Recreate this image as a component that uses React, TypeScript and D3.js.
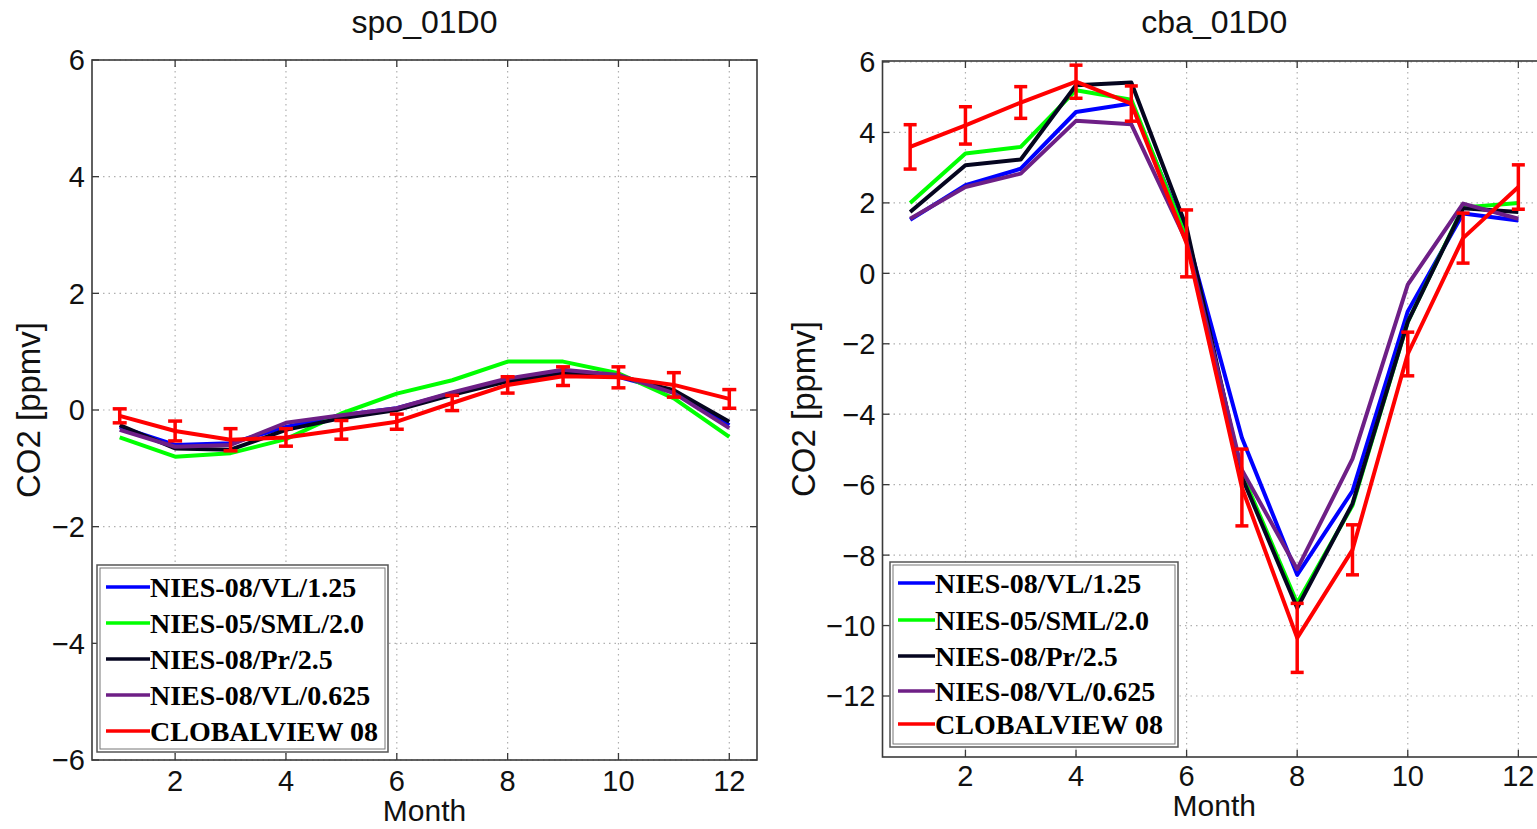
import React from "react";
import * as d3 from "d3";

const months = [1, 2, 3, 4, 5, 6, 7, 8, 9, 10, 11, 12];
const xTicks = [2, 4, 6, 8, 10, 12];

const seriesNames = [
  "NIES-08/VL/1.25",
  "NIES-05/SML/2.0",
  "NIES-08/Pr/2.5",
  "NIES-08/VL/0.625",
  "CLOBALVIEW 08",
];
const seriesColors = ["#0000ff", "#00ff00", "#05051f", "#6e1f86", "#ff0000"];

// spo_01D0
const spoBlue = [-0.29, -0.6, -0.57, -0.29, -0.09, 0.03, 0.29, 0.51, 0.63, 0.57, 0.31, -0.26];
const spoGreen = [-0.47, -0.8, -0.74, -0.5, -0.06, 0.28, 0.51, 0.83, 0.83, 0.63, 0.2, -0.46];
const spoBlack = [-0.26, -0.66, -0.68, -0.34, -0.14, 0.0, 0.26, 0.49, 0.62, 0.58, 0.34, -0.2];
const spoPurple = [-0.34, -0.63, -0.6, -0.22, -0.09, 0.03, 0.3, 0.54, 0.69, 0.6, 0.29, -0.31];
const spoObs = [-0.1, -0.36, -0.51, -0.47, -0.34, -0.2, 0.12, 0.43, 0.58, 0.56, 0.43, 0.19];
const spoErr = [0.12, 0.17, 0.19, 0.15, 0.16, 0.13, 0.13, 0.14, 0.16, 0.18, 0.21, 0.16];
const spoYTicks = [-6, -4, -2, 0, 2, 4, 6];

// cba_01D0
const cbaBlue = [1.52, 2.5, 2.97, 4.58, 4.82, 1.1, -4.67, -8.56, -6.18, -1.08, 1.7, 1.5];
const cbaGreen = [2.0, 3.4, 3.59, 5.2, 4.93, 1.0, -5.68, -9.36, -6.59, -1.38, 1.87, 2.0];
const cbaBlack = [1.74, 3.07, 3.23, 5.34, 5.42, 1.3, -5.78, -9.5, -6.54, -1.38, 1.85, 1.74];
const cbaPurple = [1.55, 2.45, 2.83, 4.33, 4.23, 0.9, -5.58, -8.4, -5.27, -0.32, 1.98, 1.55];
const cbaObs = [3.59, 4.2, 4.85, 5.44, 4.82, 0.85, -6.08, -10.35, -7.85, -2.29, 1.0, 2.45];
const cbaErr = [0.63, 0.53, 0.45, 0.47, 0.5, 0.95, 1.09, 0.98, 0.71, 0.62, 0.71, 0.63];
const cbaYTicks = [-12, -10, -8, -6, -4, -2, 0, 2, 4, 6];

const fmt = (v: number) => (v < 0 ? "\u2212" + Math.abs(v) : String(v));

type PanelProps = {
  title: string;
  left: number;
  right: number;
  top: number;
  bottom: number;
  yDomain: [number, number];
  yRange: [number, number];
  yTicks: number[];
  models: number[][];
  obs: number[];
  err: number[];
  legend: { x: number; y: number; w: number; h: number; rows: number[]; lineX: [number, number]; textX: number };
  capW: number;
  monthY: number;
  xLabelY: number;
  yLabelX: number;
};

function Panel(p: PanelProps) {
  const x = d3.scaleLinear().domain([0.5, 12.5]).range([p.left, p.right]);
  const y = d3.scaleLinear().domain(p.yDomain).range(p.yRange);
  const line = d3
    .line<number>()
    .x((_, i) => x(months[i]))
    .y((d) => y(d));
  const tickLen = 7;
  const axisColor = "#3a3a3a";
  const font = "'Liberation Sans', Arial, sans-serif";
  const midY = (p.top + p.bottom) / 2;
  return (
    <g>
      {/* grid */}
      {xTicks.map((t) => (
        <line key={"gx" + t} x1={x(t)} x2={x(t)} y1={p.top} y2={p.bottom} stroke="#b0b0b0" strokeWidth={1.2} strokeDasharray="1.5,4" />
      ))}
      {p.yTicks.map((t) => (
        <line key={"gy" + t} x1={p.left} x2={p.right} y1={y(t)} y2={y(t)} stroke="#b0b0b0" strokeWidth={1.2} strokeDasharray="1.5,4" />
      ))}
      {/* ticks */}
      {xTicks.map((t) => (
        <g key={"tx" + t}>
          <line x1={x(t)} x2={x(t)} y1={p.bottom} y2={p.bottom - tickLen} stroke={axisColor} strokeWidth={1.3} />
          <line x1={x(t)} x2={x(t)} y1={p.top} y2={p.top + tickLen} stroke={axisColor} strokeWidth={1.3} />
          <text x={x(t)} y={p.xLabelY} textAnchor="middle" fontFamily={font} fontSize={29} fill="#111">
            {fmt(t)}
          </text>
        </g>
      ))}
      {p.yTicks.map((t) => (
        <g key={"ty" + t}>
          <line x1={p.left} x2={p.left + tickLen} y1={y(t)} y2={y(t)} stroke={axisColor} strokeWidth={1.3} />
          <line x1={p.right} x2={p.right - tickLen} y1={y(t)} y2={y(t)} stroke={axisColor} strokeWidth={1.3} />
          <text x={p.left - 7} y={y(t)} dy="0.36em" textAnchor="end" fontFamily={font} fontSize={29} fill="#111">
            {fmt(t)}
          </text>
        </g>
      ))}
      {/* series */}
      {p.models.map((m, i) => (
        <path key={"m" + i} d={line(m) || ""} fill="none" stroke={seriesColors[i]} strokeWidth={4} strokeLinejoin="round" />
      ))}
      <path d={line(p.obs) || ""} fill="none" stroke={seriesColors[4]} strokeWidth={4} strokeLinejoin="round" />
      {p.obs.map((v, i) => {
        const cx = x(months[i]);
        const y1 = y(v - p.err[i]);
        const y2 = y(v + p.err[i]);
        return (
          <g key={"e" + i} stroke={seriesColors[4]} strokeWidth={3.5}>
            <line x1={cx} x2={cx} y1={y1} y2={y2} />
            <line x1={cx - p.capW / 2} x2={cx + p.capW / 2} y1={y1} y2={y1} />
            <line x1={cx - p.capW / 2} x2={cx + p.capW / 2} y1={y2} y2={y2} />
          </g>
        );
      })}
      {/* axes box */}
      <rect x={p.left} y={p.top} width={p.right - p.left} height={p.bottom - p.top} fill="none" stroke={axisColor} strokeWidth={1.6} />
      {/* legend */}
      <g>
        <rect x={p.legend.x} y={p.legend.y} width={p.legend.w} height={p.legend.h} fill="#ffffff" stroke="#555" strokeWidth={1.5} />
        <rect x={p.legend.x + 3} y={p.legend.y + 3} width={p.legend.w - 6} height={p.legend.h - 6} fill="none" stroke="#777" strokeWidth={1} />
        {seriesNames.map((n, i) => (
          <g key={"l" + i}>
            <line x1={p.legend.lineX[0]} x2={p.legend.lineX[1]} y1={p.legend.rows[i]} y2={p.legend.rows[i]} stroke={seriesColors[i]} strokeWidth={3.5} />
            <text x={p.legend.textX} y={p.legend.rows[i]} dy="0.35em" fontFamily="'Liberation Serif', 'Times New Roman', serif" fontWeight="bold" fontSize={28} fill="#000">
              {n}
            </text>
          </g>
        ))}
      </g>
      {/* labels */}
      <text x={(p.left + p.right) / 2} y={33} textAnchor="middle" fontFamily={font} fontSize={32} fill="#111">
        {p.title}
      </text>
      <text x={(p.left + p.right) / 2} y={p.monthY} textAnchor="middle" fontFamily={font} fontSize={30} fill="#111">
        Month
      </text>
      <text transform={`translate(${p.yLabelX},${midY}) rotate(-90)`} textAnchor="middle" fontFamily={font} fontSize={33} fill="#111">
        CO2 [ppmv]
      </text>
    </g>
  );
}

export default function App() {
  return (
    <svg width={1537} height={829} style={{ position: "absolute", left: 0, top: 0, background: "#fff" }}>
      <rect x={0} y={0} width={1537} height={829} fill="#fff" />
      <Panel
        title="spo_01D0"
        left={92}
        right={757}
        top={60}
        bottom={760}
        yDomain={[-6, 6]}
        yRange={[760, 60]}
        yTicks={spoYTicks}
        models={[spoBlue, spoGreen, spoBlack, spoPurple]}
        obs={spoObs}
        err={spoErr}
        legend={{ x: 97, y: 565, w: 291, h: 187, rows: [587, 623, 659, 695, 731], lineX: [106, 150], textX: 150 }}
        capW={14}
        monthY={821}
        xLabelY={791}
        yLabelX={40}
      />
      <Panel
        title="cba_01D0"
        left={882.5}
        right={1546}
        top={61}
        bottom={757}
        yDomain={[-12, 6]}
        yRange={[696, 62]}
        yTicks={cbaYTicks}
        models={[cbaBlue, cbaGreen, cbaBlack, cbaPurple]}
        obs={cbaObs}
        err={cbaErr}
        legend={{ x: 890, y: 562, w: 288, h: 185, rows: [583, 620, 656, 691, 724], lineX: [898, 935], textX: 935 }}
        capW={13}
        monthY={816}
        xLabelY={786}
        yLabelX={815}
      />
    </svg>
  );
}
